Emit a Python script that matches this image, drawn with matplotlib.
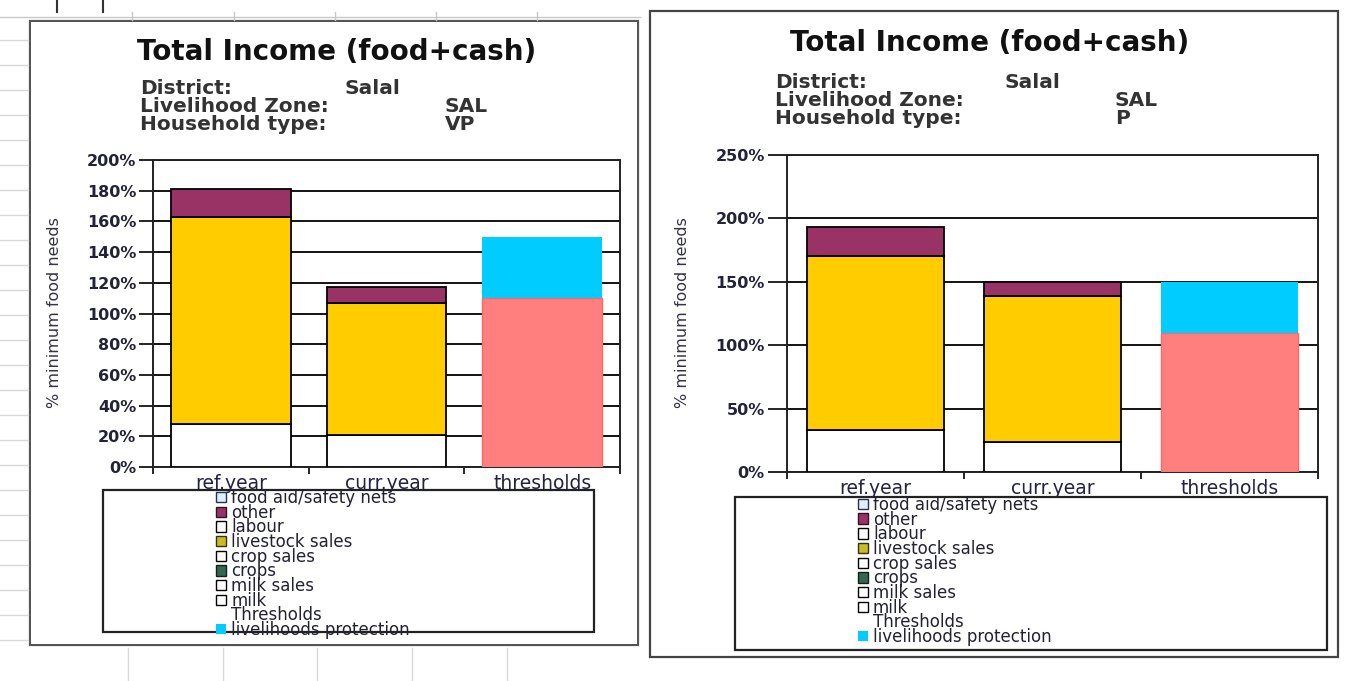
import matplotlib
matplotlib.use('Agg')
import matplotlib.pyplot as plt
from matplotlib.patches import Patch, Rectangle
import numpy as np

plt.rcParams['font.family'] = ['DejaVu Sans']

# ---------------- data ----------------
categories = ['ref.year', 'curr.year', 'thresholds']

income_series = ['milk', 'milk sales', 'crops', 'crop sales',
                 'livestock sales', 'labour', 'other', 'food aid/safety nets']
income_colors = ['#FFFFFF', '#FFFFFF', '#336655', '#FFFFFF',
                 '#FFCC00', '#FFFFFF', '#993366', '#DDEEFF']

# Left chart: household type VP (values in % of minimum food needs)
vp_milk       = [28, 21, 0]
vp_milk_sales = [0, 0, 0]
vp_crops      = [0, 0, 0]
vp_crop_sales = [0, 0, 0]
vp_livestock  = [135, 86, 0]
vp_labour     = [0, 0, 0]
vp_other      = [18, 10, 0]
vp_food_aid   = [0, 0, 0]
vp_survival   = [0, 0, 110]
vp_protection = [0, 0, 40]

# Right chart: household type P
p_milk       = [33, 24, 0]
p_milk_sales = [0, 0, 0]
p_crops      = [0, 0, 0]
p_crop_sales = [0, 0, 0]
p_livestock  = [137, 115, 0]
p_labour     = [0, 0, 0]
p_other      = [23, 11, 0]
p_food_aid   = [0, 0, 0]
p_survival   = [0, 0, 110]
p_protection = [0, 0, 40]

legend_labels = ['food aid/safety nets', 'other', 'labour', 'livestock sales',
                 'crop sales', 'crops', 'milk sales', 'milk', 'Thresholds',
                 'livelihoods protection']

W, H = 1372, 681
fig = plt.figure(figsize=(W / 100, H / 100), dpi=100)
fig.patch.set_facecolor('white')


def fx(px):
    return px / W


def fy(py):
    return 1 - py / H


# ---- spreadsheet background decorations ----
bg = fig.add_axes([0, 0, 1, 1], zorder=-5)
bg.set_xlim(0, W)
bg.set_ylim(H, 0)
bg.axis('off')
for yy in range(40, 660, 25):
    bg.plot([0, 28], [yy, yy], color='#D8D8D8', lw=1)
bg.plot([0, 640], [17, 17], color='#C8C8C8', lw=1)
for xx in [132, 234, 335, 436, 537]:
    bg.plot([xx, xx], [12, 20], color='#C8C8C8', lw=1)
for xx in [128, 223, 317, 412, 507]:
    bg.plot([xx, xx], [648, 681], color='#D8D8D8', lw=1)
for xx in [57, 103]:
    bg.plot([xx, xx], [0, 12], color='#333333', lw=1.5)
# chart frames
bg.add_patch(Rectangle((30, 21), 608, 624, fill=False, ec='#555555', lw=1.6))
bg.add_patch(Rectangle((650, 11), 688, 646, facecolor='white', ec='#444444', lw=1.6))
bg.add_patch(Rectangle((31, 22), 606, 622, facecolor='white', ec='none'))


def draw_chart(ax_rect, ymax, ystep, series_vals, surv, prot, titlex, titley,
               subx, valx1, valx2, suby, htype, ylab_x, ticklen,
               legend_box, legend_anchor):
    ax = fig.add_axes(ax_rect)
    x = np.arange(len(categories))
    bottom = np.zeros(len(categories))
    for name, vals, col in zip(income_series, series_vals, income_colors):
        vals = np.array(vals, dtype=float)
        mask = vals > 0
        if mask.any():
            ax.bar(x[mask], vals[mask], width=0.77, bottom=bottom[mask],
                   color=col, edgecolor='black', linewidth=1.3, zorder=3)
        bottom += vals
    surv = np.array(surv, dtype=float)
    prot = np.array(prot, dtype=float)
    m = surv > 0
    ax.bar(x[m], surv[m], width=0.77, color='#FF7F7F', edgecolor='#FF6666',
           linewidth=1, zorder=3)
    m = prot > 0
    ax.bar(x[m], prot[m], width=0.77, bottom=surv[m], color='#00CCFF',
           edgecolor='none', zorder=3)

    ax.set_xlim(-0.5, 2.5)
    ax.set_ylim(0, ymax)
    ticks = np.arange(0, ymax + 1, ystep)
    ax.set_yticks(ticks)
    ax.set_yticklabels(['%d%%' % t for t in ticks], fontweight='bold',
                       fontsize=11.5, color='#222238')
    ax.yaxis.grid(True, color='black', lw=1.3, zorder=0)
    ax.set_axisbelow(True)
    ax.set_xticks(x)
    ax.set_xticklabels(categories, fontsize=13.5, color='#222244')
    ax.set_xticks([-0.5, 0.5, 1.5, 2.5], minor=True)
    ax.tick_params(axis='x', which='major', length=0, pad=5)
    ax.tick_params(axis='x', which='minor', length=5, width=1.2, direction='out')
    ax.tick_params(axis='y', length=ticklen, width=1.2, direction='out', pad=2)
    for s in ax.spines.values():
        s.set_linewidth(1.4)
        s.set_color('#222222')
    ax.set_ylabel('% minimum food needs', fontsize=11.5, color='#333344')
    ax.yaxis.set_label_coords(ylab_x, fy(313), transform=fig.transFigure)

    fig.text(fx(titlex), fy(titley), 'Total Income (food+cash)', fontsize=20,
             fontweight='bold', ha='center', va='center', color='#111111')
    rows = [('District:', 'Salal', valx1),
            ('Livelihood Zone:', 'SAL', valx2),
            ('Household type:', htype, valx2)]
    for i, (lab, val, vx) in enumerate(rows):
        fig.text(fx(subx), fy(suby + 18 * i), lab, fontsize=14.5,
                 fontweight='bold', ha='left', va='center', color='#333333')
        fig.text(fx(vx), fy(suby + 18 * i), val, fontsize=14.5,
                 fontweight='bold', ha='left', va='center', color='#333333')

    # legend box
    bx0, by0, bx1, by1 = legend_box
    bg.add_patch(Rectangle((bx0, by0), bx1 - bx0, by1 - by0, fill=False,
                           ec='#222222', lw=1.6, zorder=5))
    handles = [Patch(facecolor='#DDEEFF', edgecolor='#223355'),
               Patch(facecolor='#993366', edgecolor='#331122'),
               Patch(facecolor='white', edgecolor='black'),
               Patch(facecolor='#CCBB22', edgecolor='#333311'),
               Patch(facecolor='white', edgecolor='black'),
               Patch(facecolor='#336655', edgecolor='#112211'),
               Patch(facecolor='white', edgecolor='black'),
               Patch(facecolor='white', edgecolor='black'),
               Patch(facecolor='none', edgecolor='none'),
               Patch(facecolor='#00CCFF', edgecolor='none')]
    leg = fig.legend(handles, legend_labels, loc='upper left',
                     bbox_to_anchor=(fx(legend_anchor[0]), fy(legend_anchor[1])),
                     frameon=False, fontsize=12, labelspacing=-0.2,
                     handlelength=0.6, handleheight=0.6, handletextpad=0.3,
                     borderpad=0, borderaxespad=0)
    for t in leg.get_texts():
        t.set_color('#222233')
    return ax


def rect(x0, y0, x1, y1):
    return [fx(x0), fy(y1), fx(x1) - fx(x0), fy(y0) - fy(y1)]


vp_vals = [vp_milk, vp_milk_sales, vp_crops, vp_crop_sales, vp_livestock,
           vp_labour, vp_other, vp_food_aid]
p_vals = [p_milk, p_milk_sales, p_crops, p_crop_sales, p_livestock,
          p_labour, p_other, p_food_aid]

draw_chart(rect(153, 160, 620, 467), 200, 20, vp_vals, vp_survival, vp_protection,
           337, 52, 140, 345, 445, 88, 'VP', fx(62), 10,
           (103, 490, 594, 632), (216, 489))
draw_chart(rect(787, 155, 1318, 472), 250, 50, p_vals, p_survival, p_protection,
           990, 43, 775, 1005, 1115, 82, 'P', fx(690), 14,
           (735, 497, 1327, 650), (858, 496))

fig.savefig('out.png', dpi=100)
